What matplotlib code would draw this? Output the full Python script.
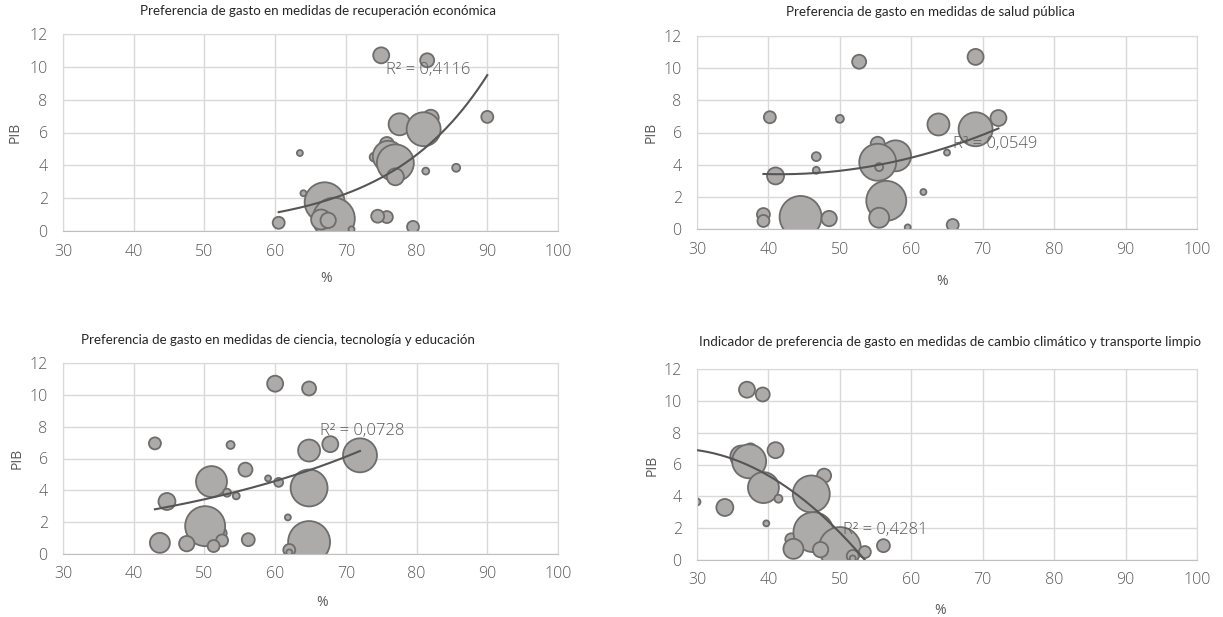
import numpy as np
import matplotlib
matplotlib.use("Agg")
import matplotlib.pyplot as plt

# PIB de cada pais y tamano de la burbuja (area relativa)
pib = [10.7, 10.4, 6.95, 6.85, 6.9, 6.5, 6.2, 5.3, 4.75, 4.5, 4.55, 4.15, 3.85,
       3.65, 3.3, 2.3, 1.3, 1.75, 0.85, 0.75, 0.7, 0.65, 0.9, 0.5, 0.25, 0.1]
tam = [64, 49, 36, 16, 64, 121, 289, 49, 9, 20, 240, 342, 16,
       12, 72, 9, 36, 400, 36, 441, 100, 59, 42, 36, 36, 9]

# % de preferencia de gasto por tipo de medida
x_recuperacion = [75.0, 81.5, 90.0, 80.0, 82.0, 77.6, 81.0, 75.8, 63.5, 74.0, 76.0, 77.0, 85.6,
                  81.3, 77.0, 64.0, 67.5, 67.0, 75.8, 68.3, 66.5, 67.5, 74.5, 60.5, 79.5, 70.8]
x_salud = [69.0, 52.7, 40.2, 50.0, 72.2, 63.8, 69.0, 55.3, 65.0, 46.7, 57.8, 55.3, 55.5,
           46.7, 41.0, 61.7, 56.0, 56.5, 45.5, 44.5, 55.5, 48.5, 39.3, 39.3, 65.8, 59.5]
x_ciencia = [60.0, 64.8, 43.0, 53.7, 67.8, 64.8, 72.0, 55.8, 59.0, 60.5, 51.0, 64.8, 53.2,
             54.5, 44.7, 61.8, 52.3, 50.1, 52.5, 64.8, 43.7, 47.5, 56.2, 51.3, 62.0, 62.0]
x_clima = [37.0, 39.2, 37.5, 36.5, 41.0, 36.2, 37.3, 47.8, 46.5, 39.0, 39.3, 46.0, 41.4,
           30.0, 33.9, 39.7, 43.2, 46.3, 49.0, 50.0, 43.5, 47.3, 56.1, 53.5, 51.8, 51.8]

titulos = ["Preferencia de gasto en medidas de recuperación económica",
           "Preferencia de gasto en medidas de salud pública",
           "Preferencia de gasto en medidas de ciencia, tecnología y educación",
           "Indicador de preferencia de gasto en medidas de cambio climático y transporte limpio"]

# lineas de tendencia: tipo y coeficientes
tend_tipo = ["exp", "poli", "exp", "poli"]
tend_coef = [(0.0151, 0.0716),                 # a*exp(b*x)
             (3.42, -0.0134, 0.00304, 39.4),   # a + b*u + c*u^2, u = x - x0
             (0.814, 0.0288),
             (6.9, -0.061, -0.0099, 30.0)]
r2_texto = ["R² = 0,4116", "R² = 0,0549", "R² = 0,0728", "R² = 0,4281"]
r2_pos = [(75.7, 9.8), (65.9, 5.3), (66.3, 7.7), (50.5, 1.9)]

W, H = 1223, 617
# caja de cada grafico en pixeles: izquierda, arriba, derecha, abajo
cajas = [(63, 34, 558, 231), (697, 36, 1197, 229), (63, 363, 558, 554), (697, 369, 1197, 560)]
pos_titulo = [(318, 11), (930, 12), (278, 340), (950, 342)]
pos_xlabel = [(326, 278), (942, 281), (322, 603), (940, 610)]
pos_ylabel = [(15, 132), (651, 132), (17, 458), (652, 465)]

gris_txt = "#595959"
plt.rcParams["font.family"] = ["Open Sans", "DejaVu Sans"]

fig = plt.figure(figsize=(W / 100, H / 100), dpi=100)
fig.patch.set_facecolor("white")

series_x = [x_recuperacion, x_salud, x_ciencia, x_clima]
for i in range(4):
    l, t, r, b = cajas[i]
    ax = fig.add_axes([l / W, 1 - b / H, (r - l) / W, (b - t) / H])
    ax.set_xlim(30, 100)
    ax.set_ylim(0, 12)
    ax.set_xticks(np.arange(30, 101, 10))
    ax.set_yticks(np.arange(0, 13, 2))
    ax.grid(True, color="#d9d9d9", linewidth=1)
    ax.set_axisbelow(True)
    for lado in ["top", "right", "left"]:
        ax.spines[lado].set_color("#d9d9d9")
    ax.spines["bottom"].set_color("#bfbfbf")
    ax.tick_params(length=0, labelsize=11.5, colors=gris_txt)
    ax.tick_params(axis="x", pad=9)
    ax.tick_params(axis="y", pad=11)
    for lab in ax.get_xticklabels() + ax.get_yticklabels():
        lab.set_fontweight("light")

    # burbujas
    ax.scatter(series_x[i], pib, s=np.array(tam) * 2.07, facecolor="#adaaaa",
               edgecolor="#6f6c6c", linewidth=1.3, zorder=2)

    # linea de tendencia sobre el rango de los datos
    xt = np.linspace(min(series_x[i]), max(series_x[i]), 200)
    c = tend_coef[i]
    if tend_tipo[i] == "exp":
        yt = c[0] * np.exp(c[1] * xt)
    else:
        u = xt - c[3]
        yt = c[0] + c[1] * u + c[2] * u ** 2
    ax.plot(xt, yt, color="#555555", linewidth=1.5, zorder=3)

    ax.text(r2_pos[i][0], r2_pos[i][1], r2_texto[i], fontsize=12, color=gris_txt,
            fontweight="light", va="center", ha="left", zorder=4)

    fig.text(pos_titulo[i][0] / W, 1 - pos_titulo[i][1] / H, titulos[i], family="Lato",
             fontsize=9.6, color="#262626", ha="center", va="center")
    fig.text(pos_xlabel[i][0] / W, 1 - pos_xlabel[i][1] / H, "%", fontsize=10,
             color=gris_txt, ha="center", va="center")
    fig.text(pos_ylabel[i][0] / W, 1 - pos_ylabel[i][1] / H, "PIB", fontsize=10,
             color=gris_txt, ha="center", va="center", rotation=90)

fig.savefig("out.png", dpi=100)
